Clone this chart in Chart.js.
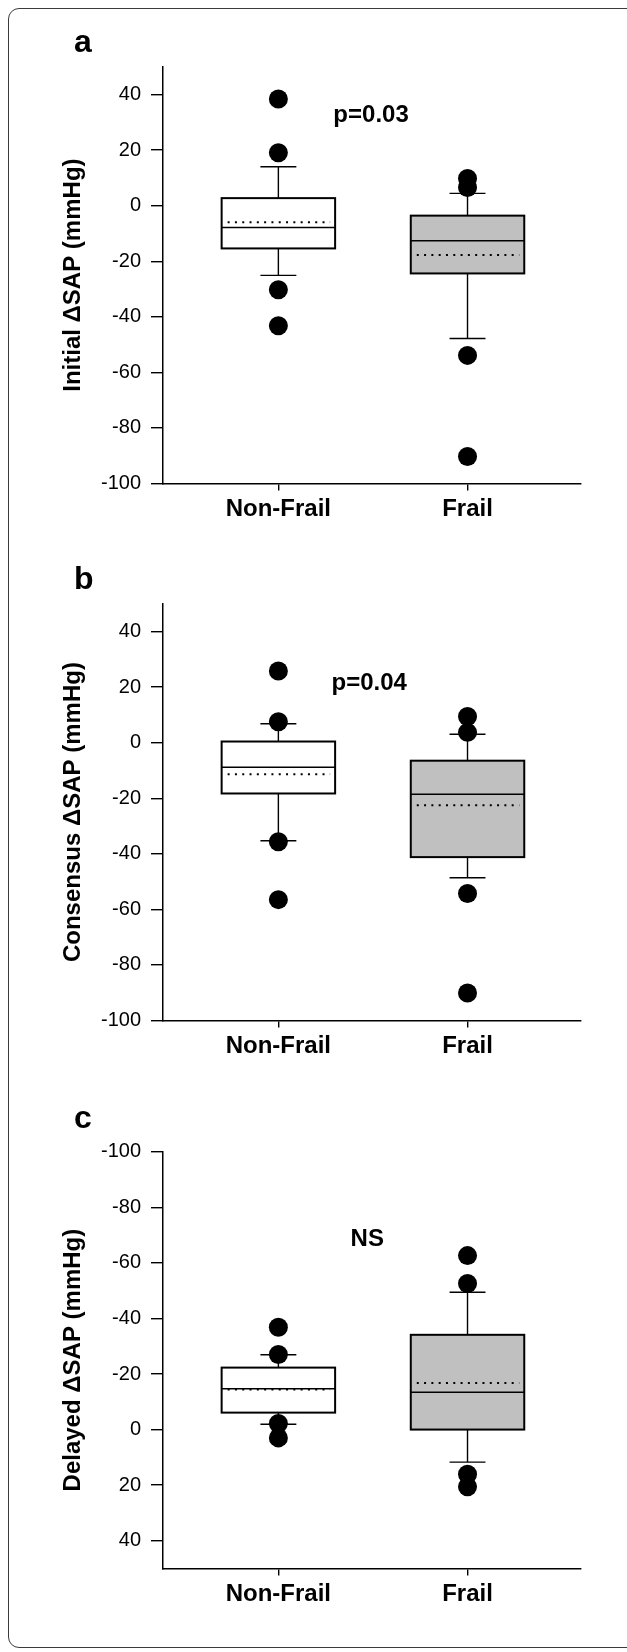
<!DOCTYPE html>
<html>
<head>
<meta charset="utf-8">
<script src="https://cdn.jsdelivr.net/npm/chart.js@4"></script>
<style>
  html, body { margin: 0; padding: 0; background: #fff; }
  body { width: 627px; height: 1652px; position: relative; overflow: hidden; }
  .frame { position: absolute; left: 8px; top: 8px; width: 640px; height: 1640px;
           border: 1.5px solid #3a3a3a; border-radius: 11px; box-sizing: border-box; }
  canvas { position: absolute; left: 0; }
</style>
</head>
<body>
<div class="frame"></div>
<canvas id="chartA" style="top:0px"></canvas>
<canvas id="chartB" style="top:540px"></canvas>
<canvas id="chartC" style="top:1080px"></canvas>
<script>
const categories = ['Non-Frail', 'Frail'];
const yTicks = [-100, -80, -60, -40, -20, 0, 20, 40];

// a - initial
const initialLow = [-25.1, -47.8];
const initialQ1 = [-15.4, -24.4];
const initialMedian = [-7.9, -12.6];
const initialQ3 = [2.7, -3.6];
const initialHigh = [14.0, 4.4];
const initialMean = [-6.0, -17.8];
const initialOutNonFrail = [38.4, 19.0, -30.3, -43.2];
const initialOutFrail = [9.8, 6.5, -53.9, -90.3];

// b - consensus
const consensusLow = [-35.3, -48.6];
const consensusQ1 = [-18.3, -41.2];
const consensusMedian = [-8.9, -18.6];
const consensusQ3 = [0.4, -6.5];
const consensusHigh = [6.8, 3.0];
const consensusMean = [-11.4, -22.5];
const consensusOutNonFrail = [25.8, 7.5, -35.7, -56.5];
const consensusOutFrail = [9.4, 3.7, -54.3, -90.1];

// c - delayed (axis reversed)
const delayedLow = [-1.9, 11.7];
const delayedQ1 = [-6.1, 0];
const delayedMedian = [-14.7, -13.4];
const delayedQ3 = [-22.3, -34.1];
const delayedHigh = [-26.9, -49.4];
const delayedMean = [-14.4, -16.8];
const delayedOutNonFrail = [-36.8, -27.0, -2.2, 3.0];
const delayedOutFrail = [-62.6, -52.6, 16.1, 20.6];

const FONT = "'Liberation Sans', Arial, sans-serif";

// box, whiskers, median and dotted mean
const boxPlugin = {
  id: 'boxes',
  beforeDatasetsDraw(chart, args, opts) {
    const { ctx, scales: { x, y } } = chart;
    opts.median.forEach((med, i) => {
      const xc = x.getPixelForValue(i + 1);
      const half = x.getPixelForValue(i + 1.3) - xc;
      const cap = x.getPixelForValue(i + 1.095) - xc;
      const yLow = y.getPixelForValue(opts.low[i]);
      const yQ1 = y.getPixelForValue(opts.q1[i]);
      const yQ3 = y.getPixelForValue(opts.q3[i]);
      const yHigh = y.getPixelForValue(opts.high[i]);
      ctx.save();
      ctx.strokeStyle = '#000';
      ctx.lineWidth = 1.4;
      ctx.beginPath();
      ctx.moveTo(xc, yQ3); ctx.lineTo(xc, yHigh);
      ctx.moveTo(xc - cap, yHigh); ctx.lineTo(xc + cap, yHigh);
      ctx.moveTo(xc, yQ1); ctx.lineTo(xc, yLow);
      ctx.moveTo(xc - cap, yLow); ctx.lineTo(xc + cap, yLow);
      ctx.stroke();

      const top = Math.min(yQ1, yQ3);
      const h = Math.abs(yQ1 - yQ3);
      ctx.fillStyle = opts.fills[i];
      ctx.fillRect(xc - half, top, half * 2, h);
      ctx.lineWidth = 2;
      ctx.strokeRect(xc - half, top, half * 2, h);

      const yMed = y.getPixelForValue(med);
      ctx.lineWidth = 1.5;
      ctx.beginPath();
      ctx.moveTo(xc - half, yMed); ctx.lineTo(xc + half, yMed);
      ctx.stroke();

      const yMean = y.getPixelForValue(opts.mean[i]);
      ctx.lineWidth = 2;
      ctx.setLineDash([2, 5.3]);
      ctx.beginPath();
      ctx.moveTo(xc - half + 6, yMean); ctx.lineTo(xc + half - 5, yMean);
      ctx.stroke();
      ctx.restore();
    });
  },
  afterDraw(chart, args, opts) {
    const { ctx, chartArea, scales: { x, y } } = chart;
    ctx.save();
    ctx.fillStyle = '#000';
    ctx.font = 'bold 32px ' + FONT;
    ctx.textAlign = 'left';
    ctx.textBaseline = 'alphabetic';
    ctx.fillText(opts.letter, 74, chartArea.top - opts.letterGap);
    ctx.font = 'bold 24px ' + FONT;
    ctx.textAlign = 'center';
    ctx.textBaseline = 'middle';
    ctx.fillText(opts.note, x.getPixelForValue(opts.noteAt[0]), y.getPixelForValue(opts.noteAt[1]));
    ctx.restore();
  }
};

function makePanel(id, p) {
  const canvas = document.getElementById(id);
  canvas.width = 627;
  canvas.height = p.height;
  canvas.style.width = '627px';
  canvas.style.height = p.height + 'px';

  const points = [];
  p.outNonFrail.forEach(v => points.push({ x: 1, y: v }));
  p.outFrail.forEach(v => points.push({ x: 2, y: v }));

  return new Chart(canvas, {
    type: 'scatter',
    data: {
      datasets: [{
        data: points,
        pointRadius: 9.5,
        pointHoverRadius: 9.5,
        backgroundColor: '#000',
        borderWidth: 0
      }]
    },
    options: {
      responsive: false,
      animation: false,
      events: [],
      layout: { padding: { left: 0, right: 46, top: p.padTop, bottom: p.height - p.padTop - 416.8 - 40 } },
      plugins: {
        legend: { display: false },
        tooltip: { enabled: false },
        boxes: {
          low: p.low, q1: p.q1, median: p.median, q3: p.q3, high: p.high, mean: p.mean,
          fills: ['#ffffff', '#c0c0c0'],
          letter: p.letter, letterGap: p.letterGap,
          note: p.note, noteAt: p.noteAt
        }
      },
      scales: {
        x: {
          type: 'linear',
          min: 0.39,
          max: 2.6,
          afterBuildTicks: s => { s.ticks = categories.map((c, i) => ({ value: i + 1 })); },
          afterFit: s => { s.height = 40; },
          grid: { drawOnChartArea: false, drawTicks: true, tickLength: 7, color: '#000', lineWidth: 1.4 },
          border: { color: '#000', width: 1.5 },
          ticks: {
            color: '#000',
            padding: 4,
            maxRotation: 0,
            autoSkip: false,
            font: { family: FONT, size: 24, weight: 'bold' },
            callback: v => categories[Math.round(v) - 1]
          }
        },
        y: {
          min: -100,
          max: 50,
          reverse: p.reverse,
          afterBuildTicks: s => { s.ticks = yTicks.map(v => ({ value: v })); },
          afterFit: s => { s.width = 163; },
          grid: { drawOnChartArea: false, drawTicks: true, tickLength: 12, color: '#000', lineWidth: 1.4 },
          border: { color: '#000', width: 1.5 },
          ticks: { color: '#000', padding: 10, font: { family: FONT, size: 20 } },
          title: {
            display: true,
            text: p.title,
            color: '#000',
            font: { family: FONT, size: 24, weight: 'bold' },
            padding: { top: 59, bottom: 0 }
          }
        }
      }
    },
    plugins: [boxPlugin]
  });
}

makePanel('chartA', {
  height: 540, padTop: 66.7, reverse: false,
  title: 'Initial \u0394SAP (mmHg)', letter: 'a', letterGap: 14.7,
  note: 'p=0.03', noteAt: [1.49, 32.4],
  low: initialLow, q1: initialQ1, median: initialMedian, q3: initialQ3, high: initialHigh, mean: initialMean,
  outNonFrail: initialOutNonFrail, outFrail: initialOutFrail
});

makePanel('chartB', {
  height: 540, padTop: 63.7, reverse: false,
  title: 'Consensus \u0394SAP (mmHg)', letter: 'b', letterGap: 14.7,
  note: 'p=0.04', noteAt: [1.48, 21.3],
  low: consensusLow, q1: consensusQ1, median: consensusMedian, q3: consensusQ3, high: consensusHigh, mean: consensusMean,
  outNonFrail: consensusOutNonFrail, outFrail: consensusOutFrail
});

makePanel('chartC', {
  height: 572, padTop: 71.7, reverse: true,
  title: 'Delayed \u0394SAP (mmHg)', letter: 'c', letterGap: 23.7,
  note: 'NS', noteAt: [1.47, -68.5],
  low: delayedLow, q1: delayedQ1, median: delayedMedian, q3: delayedQ3, high: delayedHigh, mean: delayedMean,
  outNonFrail: delayedOutNonFrail, outFrail: delayedOutFrail
});
</script>
</body>
</html>
